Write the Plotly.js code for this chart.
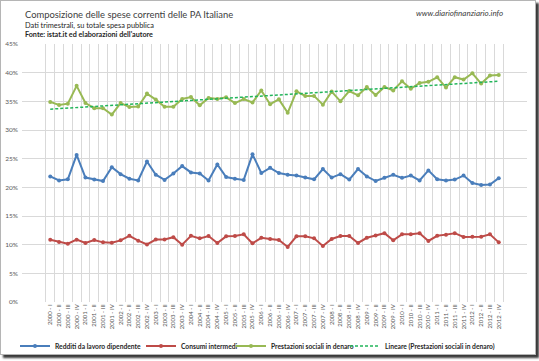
<!DOCTYPE html>
<html><head><meta charset="utf-8">
<script src="https://cdn.plot.ly/plotly-3.0.1.min.js"></script>
<style>
html,body{margin:0;padding:0;background:#fff;}
#wrap{position:absolute;left:0;top:0;width:534px;height:353px;border:1px solid #b5b5b5;box-shadow:3px 3px 2px #3a3a3a;background:#fff;}
#chart{width:534px;height:353px;}
</style></head>
<body><div id="wrap"><div id="chart"></div></div>
<script>
const years = ['2000','2001','2002','2003','2004','2005','2006','2007','2008','2009','2010','2011','2012'];
const quarters = ['I','II','III','IV'];
const categories = [];
years.forEach(y => quarters.forEach(q => categories.push(y + ' - ' + q)));

const redditi = [21.9,21.2,21.4,25.65,21.7,21.35,21.1,23.5,22.3,21.5,21.2,24.5,22.2,21.3,22.4,23.7,22.6,22.4,
  21.2,24.0,21.8,21.5,21.3,25.75,22.5,23.4,22.5,22.2,22.05,21.7,21.4,23.2,21.7,22.3,21.35,
  23.2,21.9,21.1,21.65,22.2,21.65,22.05,21.2,22.95,21.4,21.2,21.35,22.05,20.75,20.4,20.5,21.6];
const consumi = [10.87,10.47,10.17,10.87,10.3,10.8,10.4,10.35,10.75,11.55,10.7,10.05,10.9,10.9,11.3,10.0,11.55,11.1,
  11.5,10.3,11.45,11.5,11.8,10.23,11.2,11.0,10.8,9.6,11.45,11.45,11.1,9.77,11.0,11.5,11.5,
  10.3,11.2,11.6,12.0,10.75,11.8,11.8,12.0,10.65,11.55,11.75,12.0,11.35,11.4,11.4,11.8,10.4];
const prestazioni = [34.9,34.35,34.6,37.7,34.7,33.8,33.8,32.7,34.7,34.0,34.1,36.35,35.3,34.05,34.05,35.4,35.75,34.3,
  35.6,35.4,35.7,34.7,35.4,34.8,36.9,34.5,35.35,33.0,36.75,35.95,35.95,34.4,36.7,35.0,36.8,
  36.05,37.5,36.1,37.5,36.9,38.5,37.2,38.2,38.4,39.2,37.4,39.2,38.8,39.9,38.1,39.5,39.6];
const yTicks = [0,5,10,15,20,25,30,35,40,45];

// Excel "Lineare" trendline: least-squares fit on prestazioni
const n = prestazioni.length;
let sx=0, sy=0, sxy=0, sxx=0;
prestazioni.forEach((v,i)=>{ const x=i+1; sx+=x; sy+=v; sxy+=x*v; sxx+=x*x; });
const slope = (n*sxy - sx*sy)/(n*sxx - sx*sx);
const inter = (sy - slope*sx)/n;
const trend = prestazioni.map((v,i)=> inter + slope*(i+1));

const mk = (name, y, color, lg) => ({
  type:'scatter', mode:'lines+markers', name:name, x:categories, y:y, legend:lg,
  line:{color:color, width:2}, marker:{color:color, size:4, symbol:'circle'}
});
const data = [
  mk('Redditi da lavoro dipendente', redditi, '#4A7EBB', 'legend'),
  mk('Consumi intermedi', consumi, '#BE4B48', 'legend2'),
  mk('Prestazioni sociali in denaro', prestazioni, '#98B954', 'legend3'),
  {type:'scatter', mode:'lines', name:'Lineare (Prestazioni sociali in denaro)', x:categories, y:trend, legend:'legend4',
   line:{color:'#22B55A', width:1.5, dash:'3px,2px'}}
];

const W=534, H=353, L=21, R=8, T=43, B=52;
const pw=W-L-R, ph=H-T-B;
const px = x => (x-L)/pw;
const py = y => (H-B-y)/ph;
const fnt = 'Lato, "Open Sans", sans-serif';
const lgFont = {family:fnt, size:6.7, color:'#262626', weight:'bold'};
const lg = textX => ({orientation:'h', xref:'container', yref:'container', x:(textX-41)/W, y:1-345/H,
  xanchor:'left', yanchor:'middle', font:lgFont, itemwidth:30, bgcolor:'rgba(0,0,0,0)', borderwidth:0});

const layout = {
  width:W, height:H,
  margin:{l:L, r:R, t:T, b:B, pad:0},
  paper_bgcolor:'#fff', plot_bgcolor:'#fff',
  font:{family:fnt, color:'#595959'},
  showlegend:true,
  legend:lg(55), legend2:lg(181), legend3:lg(271), legend4:lg(385),
  xaxis:{type:'category', tickson:'boundaries', showgrid:true, gridcolor:'#d9d9d9', gridwidth:1,
    tickangle:-90, tickfont:{size:6, color:'#595959'}, ticks:'', showline:false, zeroline:false, fixedrange:true, automargin:false},
  yaxis:{range:[0,45], tickvals:yTicks, ticktext:yTicks.map(v=>v+'%'), showgrid:true, gridcolor:'#d9d9d9', gridwidth:1,
    tickfont:{size:6.5, color:'#595959'}, ticks:'', showline:false, zeroline:false, fixedrange:true, automargin:false, ticklabelstandoff:3},
  annotations:[
    {text:'Composizione delle spese correnti delle PA Italiane', xref:'paper', yref:'paper', x:px(22), y:py(13), xanchor:'left', yanchor:'middle', showarrow:false, font:{family:fnt, size:9.4, color:'#404040'}},
    {text:'Dati trimestrali, su totale spesa pubblica', xref:'paper', yref:'paper', x:px(22), y:py(24), xanchor:'left', yanchor:'middle', showarrow:false, font:{family:fnt, size:7.4, color:'#262626'}},
    {text:"<b>Fonte: istat.it ed elaborazioni dell'autore</b>", xref:'paper', yref:'paper', x:px(22), y:py(34), xanchor:'left', yanchor:'middle', showarrow:false, font:{family:fnt, size:7.2, color:'#262626'}},
    {text:'<i>www.diariofinanziario.info</i>', xref:'paper', yref:'paper', x:px(504), y:py(12), xanchor:'right', yanchor:'middle', showarrow:false, font:{family:fnt, size:8, color:'#404040'}}
  ]
};
Plotly.newPlot('chart', data, layout, {displayModeBar:false, staticPlot:true});
</script></body></html>
